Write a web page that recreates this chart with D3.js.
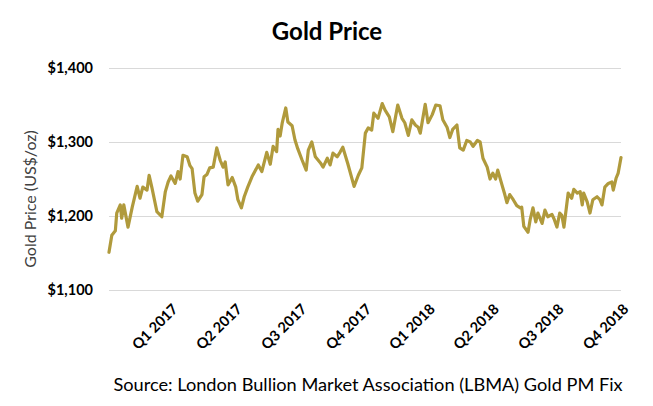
<!DOCTYPE html>
<html>
<head>
<meta charset="utf-8">
<script src="https://cdn.jsdelivr.net/npm/d3@7"></script>
<style>
  html, body { margin: 0; padding: 0; background: #fff; }
  svg { display: block; }
  text { font-family: Lato, "Open Sans", "Liberation Sans", sans-serif; }
</style>
</head>
<body>
<svg id="chart" width="653" height="406"></svg>
<script>
const dates = [
"2017-01-03","2017-01-07","2017-01-12","2017-01-14","2017-01-19","2017-01-21","2017-01-24","2017-01-30",
"2017-02-05","2017-02-12","2017-02-16","2017-02-20","2017-02-26","2017-03-01","2017-03-05","2017-03-12",
"2017-03-19","2017-03-24","2017-03-28","2017-04-01","2017-04-07","2017-04-11","2017-04-14","2017-04-18",
"2017-04-24","2017-04-28","2017-05-01","2017-05-05","2017-05-09","2017-05-15","2017-05-18","2017-05-22",
"2017-05-26","2017-05-31","2017-06-05","2017-06-10","2017-06-14","2017-06-17","2017-06-21","2017-06-27",
"2017-07-02","2017-07-05","2017-07-10","2017-07-14","2017-07-19","2017-07-25","2017-07-29","2017-08-03",
"2017-08-08","2017-08-15","2017-08-20","2017-08-24","2017-08-29","2017-08-31","2017-09-03","2017-09-06",
"2017-09-11","2017-09-14","2017-09-20","2017-09-24","2017-09-28","2017-10-04","2017-10-10","2017-10-13",
"2017-10-18","2017-10-23","2017-10-30","2017-11-03","2017-11-09","2017-11-13","2017-11-17","2017-11-23",
"2017-11-27","2017-12-01","2017-12-08","2017-12-17","2017-12-23","2017-12-28","2018-01-02","2018-01-06",
"2018-01-11","2018-01-14","2018-01-20","2018-01-26","2018-01-30","2018-02-05","2018-02-10","2018-02-17",
"2018-02-23","2018-02-27","2018-03-04","2018-03-09","2018-03-14","2018-03-18","2018-03-21","2018-03-28",
"2018-04-01","2018-04-07","2018-04-12","2018-04-18","2018-04-22","2018-04-28","2018-05-02","2018-05-06",
"2018-05-12","2018-05-16","2018-05-21","2018-05-26","2018-05-31","2018-06-04","2018-06-10","2018-06-14",
"2018-06-18","2018-06-24","2018-06-28","2018-07-02","2018-07-06","2018-07-09","2018-07-15","2018-07-19",
"2018-07-22","2018-07-26","2018-07-31","2018-08-05","2018-08-10","2018-08-12","2018-08-15","2018-08-21",
"2018-08-24","2018-08-28","2018-09-01","2018-09-04","2018-09-10","2018-09-14","2018-09-18","2018-09-24",
"2018-09-27","2018-10-01","2018-10-05","2018-10-08","2018-10-11","2018-10-17","2018-10-22","2018-10-25",
"2018-10-30","2018-11-03","2018-11-06","2018-11-08","2018-11-13","2018-11-17","2018-11-21","2018-11-27",
"2018-12-01","2018-12-04","2018-12-08","2018-12-13","2018-12-18","2018-12-20","2018-12-24","2018-12-27",
"2018-12-31"];
const prices = [
1151,1174,1180,1204,1215,1197,1215,1185,
1212,1240,1224,1239,1235,1255,1238,1206,
1199,1233,1246,1254,1244,1260,1250,1282,
1280,1268,1264,1231,1220,1229,1253,1256,
1265,1266,1292,1275,1266,1273,1242,1252,
1239,1222,1211,1226,1239,1253,1260,1269,
1260,1286,1270,1294,1287,1317,1308,1326,
1346,1327,1322,1303,1291,1276,1262,1289,
1300,1280,1272,1266,1278,1269,1285,1280,
1286,1293,1271,1240,1255,1265,1312,1319,
1316,1339,1332,1352,1343,1334,1314,1350,
1332,1326,1309,1330,1323,1320,1312,1351,
1326,1337,1350,1349,1330,1320,1306,1317,
1323,1292,1289,1302,1300,1294,1302,1300,
1278,1266,1250,1258,1250,1262,1242,1229,
1218,1229,1222,1214,1211,1212,1186,1178,
1195,1211,1192,1204,1190,1208,1199,1202,
1196,1185,1204,1201,1185,1231,1224,1236,
1231,1233,1215,1231,1219,1204,1222,1226,
1222,1215,1239,1244,1246,1235,1251,1258,
1279];
const tickDates = ["2017-03-31","2017-06-30","2017-09-30","2017-12-31","2018-03-31","2018-06-30","2018-09-30","2018-12-31"];
const tickLabels = ["Q1 2017","Q2 2017","Q3 2017","Q4 2017","Q1 2018","Q2 2018","Q3 2018","Q4 2018"];
const yTicks = [1100, 1200, 1300, 1400];

const parse = d3.timeParse("%Y-%m-%d");
const data = dates.map((d, i) => ({ date: parse(d), value: prices[i] }));

const svg = d3.select("#chart");
const plotLeft = 109, plotRight = 621, plotTop = 68, plotBottom = 290;

const x = d3.scaleTime()
  .domain([parse("2017-01-03"), parse("2018-12-31")])
  .range([plotLeft, plotRight]);
const y = d3.scaleLinear().domain([1100, 1400]).range([plotBottom, plotTop]);

// title
svg.append("text")
  .attr("x", 327).attr("y", 40)
  .attr("text-anchor", "middle")
  .attr("font-size", 24).attr("font-weight", "bold").attr("fill", "#000")
  .text("Gold Price");

// y axis (gridlines + labels)
const yAxis = d3.axisLeft(y)
  .tickValues(yTicks)
  .tickSize(-(plotRight - plotLeft))
  .tickPadding(16)
  .tickFormat(d => "$" + d3.format(",")(d));
const gy = svg.append("g").attr("transform", `translate(${plotLeft},0)`).call(yAxis);
gy.select(".domain").remove();
gy.selectAll(".tick line").attr("stroke", "#d9d9d9").attr("stroke-width", 1);
gy.selectAll(".tick text")
  .attr("font-family", "Lato, 'Open Sans', sans-serif")
  .attr("font-size", 14.5).attr("font-weight", "bold").attr("fill", "#000");

// y axis title
svg.append("text")
  .attr("transform", "translate(36,199) rotate(-90)")
  .attr("text-anchor", "middle")
  .attr("font-size", 16).attr("fill", "#404040")
  .text("Gold Price (US$/oz)");

// x axis labels
const xAxis = d3.axisBottom(x)
  .tickValues(tickDates.map(parse))
  .tickSize(0)
  .tickFormat((d, i) => tickLabels[i]);
const gx = svg.append("g").attr("transform", `translate(0,${plotBottom})`).call(xAxis);
gx.select(".domain").remove();
gx.selectAll(".tick text")
  .attr("font-family", "Lato, 'Open Sans', sans-serif")
  .attr("font-size", 14.5).attr("font-weight", "bold").attr("fill", "#000")
  .attr("text-anchor", "end")
  .attr("dy", null).attr("y", 0)
  .attr("transform", "translate(8,20) rotate(-45)");

// line
const line = d3.line().x(d => x(d.date)).y(d => y(d.value));
svg.append("path")
  .datum(data)
  .attr("fill", "none")
  .attr("stroke", "#b09a3c")
  .attr("stroke-width", 3.2)
  .attr("stroke-linejoin", "round")
  .attr("stroke-linecap", "round")
  .attr("d", line);

// source
svg.append("text")
  .attr("x", 368).attr("y", 391)
  .attr("text-anchor", "middle")
  .attr("font-size", 18.2).attr("fill", "#000")
  .text("Source: London Bullion Market Association (LBMA) Gold PM Fix");
</script>
</body>
</html>
